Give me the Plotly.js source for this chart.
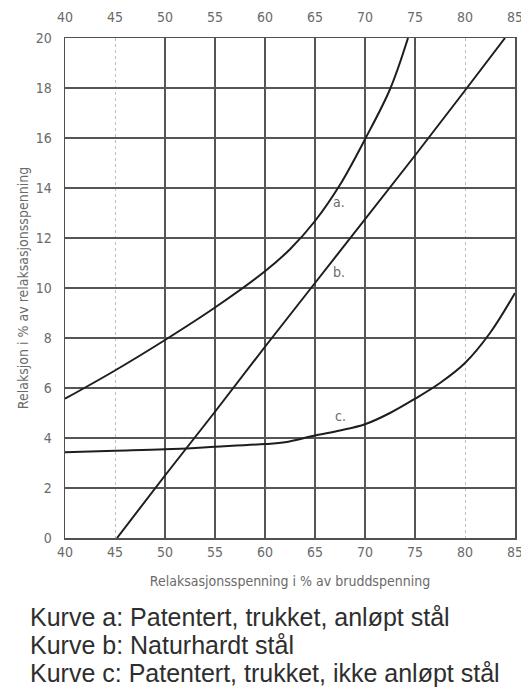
<!DOCTYPE html>
<html>
<head>
<meta charset="utf-8">
<script src="https://cdn.plot.ly/plotly-3.0.1.min.js"></script>
<style>html,body{margin:0;padding:0;background:#fff;}#chart{width:521px;height:691px;}</style>
</head>
<body>
<div id="chart"></div>
<script>
// Data
const xTicks = [40, 45, 50, 55, 60, 65, 70, 75, 80, 85];
const yTicks = [0, 2, 4, 6, 8, 10, 12, 14, 16, 18, 20];
const darkGridX = [50, 55, 60, 65, 70, 75];

const curveA_x = [40, 45, 50, 55, 60, 62.5, 65, 67.5, 70, 72.5, 74.3];
const curveA_y = [5.57, 6.7, 7.92, 9.22, 10.67, 11.55, 12.68, 14.13, 15.95, 17.95, 20.0];

const curveB_x = [45.2, 50, 55, 60, 65, 70, 75, 80, 84];
const curveB_y = [0, 2.5, 5.05, 7.65, 10.2, 12.75, 15.3, 17.9, 20.0];

const curveC_x = [40, 45, 50, 55, 60, 62, 65, 67.5, 70, 72.5, 75, 77.5, 80, 82.5, 85];
const curveC_y = [3.43, 3.49, 3.55, 3.65, 3.76, 3.83, 4.1, 4.3, 4.55, 5.0, 5.57, 6.2, 7.0, 8.2, 9.8];

const curveLabels = ['a.', 'b.', 'c.'];
const labelX = [67.4, 67.4, 67.5];
const labelY = [13.45, 10.65, 4.9];

const captions = [
  'Kurve a: Patentert, trukket, anløpt stål',
  'Kurve b: Naturhardt stål',
  'Kurve c: Patentert, trukket, ikke anløpt stål'
];

const xTitle = 'Relaksasjonsspenning i % av bruddspenning';
const yTitle = 'Relaksjon i % av relaksasjonsspenning';

const narrow = '"Liberation Sans Narrow", "DejaVu Sans Condensed", sans-serif';
const tickFont = {family: narrow, size: 14, color: '#6a6a6a'};
const titleFont = {family: narrow, size: 14, color: '#6a6a6a'};
const lineStyle = {color: '#1e1e1e', width: 2, shape: 'spline', smoothing: 1};

const traces = [
  {x: curveA_x, y: curveA_y, mode: 'lines', line: lineStyle, hoverinfo: 'skip', xaxis: 'x', yaxis: 'y'},
  {x: curveB_x, y: curveB_y, mode: 'lines', line: Object.assign({}, lineStyle, {shape: 'linear'}), hoverinfo: 'skip', xaxis: 'x', yaxis: 'y'},
  {x: curveC_x, y: curveC_y, mode: 'lines', line: lineStyle, hoverinfo: 'skip', xaxis: 'x', yaxis: 'y'},
  {x: [40], y: [null], mode: 'lines', hoverinfo: 'skip', xaxis: 'x2', yaxis: 'y'},
  {x: [40], y: [null], mode: 'lines', hoverinfo: 'skip', xaxis: 'x3', yaxis: 'y'}
];

const annotations = curveLabels.map((t, i) => ({
  x: labelX[i], y: labelY[i], xref: 'x', yref: 'y', text: t, showarrow: false,
  font: {family: narrow, size: 14, color: '#6a6a6a'}, xanchor: 'center', yanchor: 'middle'
}));
const capShift = [-79, -107, -135];
captions.forEach((c, i) => annotations.push({
  x: 0, y: 0, xref: 'paper', yref: 'paper', xshift: -37, yshift: capShift[i],
  xanchor: 'left', yanchor: 'middle', text: c, showarrow: false,
  font: {family: '"Liberation Sans", Arial, sans-serif', size: 25, color: '#2e2e2e'}
}));

const layout = {
  width: 521, height: 691,
  margin: {l: 65, r: 6, t: 38, b: 153},
  paper_bgcolor: '#fff', plot_bgcolor: '#fff',
  showlegend: false,
  xaxis: {
    range: [40, 85], tickvals: xTicks, ticktext: xTicks.map(String),
    showgrid: true, gridcolor: '#bdbdbd', gridwidth: 1, griddash: 'dot',
    zeroline: false, showline: true, linecolor: '#505050', linewidth: 1.5, mirror: true,
    ticks: 'outside', ticklen: 1, tickcolor: 'rgba(0,0,0,0)',
    tickfont: tickFont, ticklabeloverflow: 'allow',
    title: {text: xTitle, font: titleFont, standoff: 17}
  },
  xaxis2: {
    range: [40, 85], overlaying: 'x', side: 'top', anchor: 'y',
    tickvals: xTicks, ticktext: xTicks.map(String),
    showgrid: false, zeroline: false, showline: false,
    ticks: 'outside', ticklen: 9, tickcolor: 'rgba(0,0,0,0)',
    tickfont: tickFont, ticklabeloverflow: 'allow'
  },
  xaxis3: {
    range: [40, 85], overlaying: 'x', anchor: 'y',
    tickvals: darkGridX, showticklabels: false,
    showgrid: true, gridcolor: '#555', gridwidth: 1.5,
    zeroline: false, showline: false, ticks: ''
  },
  yaxis: {
    range: [0, 20], tickvals: yTicks, ticktext: yTicks.map(String),
    showgrid: true, gridcolor: '#555', gridwidth: 1.5,
    zeroline: false, showline: true, linecolor: '#505050', linewidth: 1.5, mirror: true,
    ticks: 'outside', ticklen: 9, tickcolor: 'rgba(0,0,0,0)',
    tickfont: tickFont,
    title: {text: yTitle, font: titleFont, standoff: 4}
  },
  annotations: annotations
};

Plotly.newPlot('chart', traces, layout, {displayModeBar: false, staticPlot: true});
</script>
</body>
</html>
